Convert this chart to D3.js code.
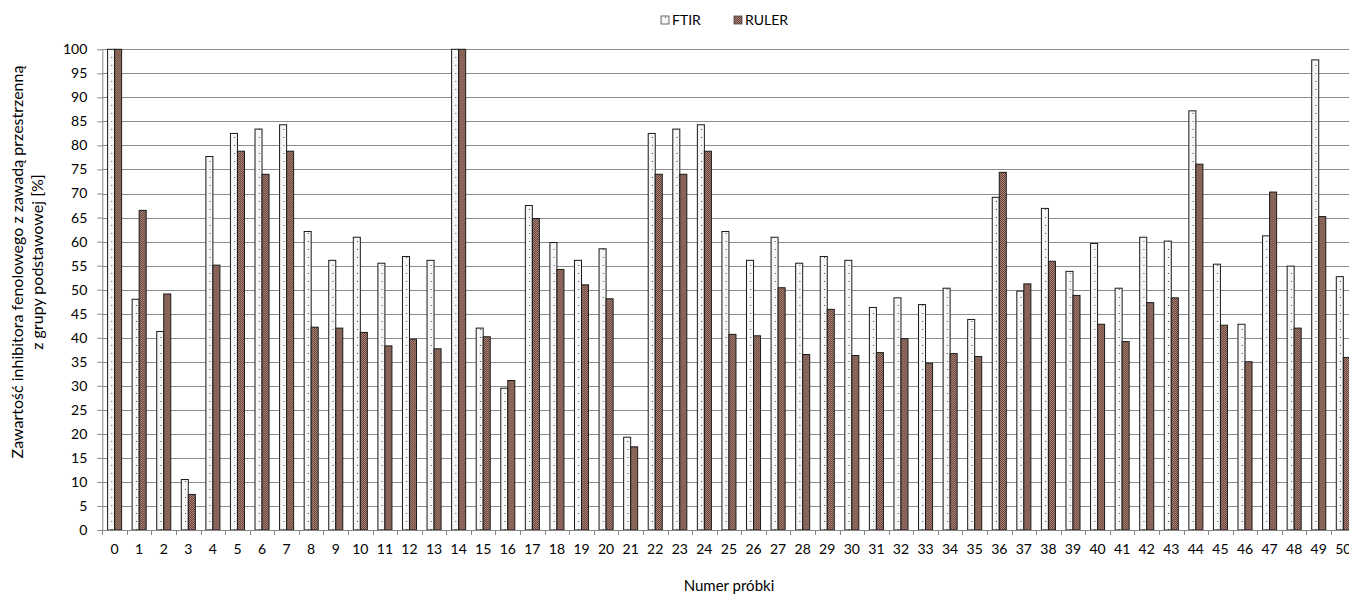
<!DOCTYPE html>
<html><head><meta charset="utf-8">
<script src="https://cdn.jsdelivr.net/npm/d3@7"></script>
<style>body{margin:0;background:#fff;overflow:hidden}svg{display:block}text{font-family:Lato,"Open Sans",sans-serif;fill:#000}</style>
</head><body>
<script>
const categories = d3.range(0, 51).map(String);
const seriesNames = ["FTIR", "RULER"];
const ftir = [100,48.0,41.3,10.5,77.7,82.5,83.4,84.3,62.1,56.1,60.9,55.5,56.9,56.1,100,42.0,29.5,67.5,59.8,56.1,58.5,19.3,82.5,83.4,84.3,62.1,56.1,60.9,55.5,56.9,56.1,46.3,48.3,46.9,50.3,43.8,69.2,49.7,66.9,53.8,59.6,50.3,60.9,60.1,87.2,55.3,42.8,61.2,54.9,97.8,52.7];
const ruler = [100,66.5,49.1,7.4,55.1,78.8,74.0,78.8,42.2,42.0,41.1,38.3,39.7,37.7,100,40.2,31.1,64.8,54.2,51.0,48.1,17.3,74.0,74.0,78.8,40.7,40.4,50.4,36.5,45.9,36.3,36.9,39.8,34.7,36.7,36.1,74.4,51.2,55.9,48.8,42.8,39.2,47.3,48.3,76.1,42.6,35.0,70.3,42.0,65.2,35.9];
const yTicks = d3.range(0, 101, 5);
const yTitle = ["Zawartość inhibitora fenolowego z zawadą przestrzenną", "z grupy podstawowej [%]"];
const xTitle = "Numer próbki";

(function(){
const W = 1349, H = 597;
const svg = d3.select("body").append("svg").attr("width", W).attr("height", H);
const defs = svg.append("defs");
const p1 = defs.append("pattern").attr("id","pF").attr("patternUnits","userSpaceOnUse").attr("width",8).attr("height",8);
p1.append("rect").attr("width",8).attr("height",8).attr("fill","#f7f7f7");
p1.append("rect").attr("x",1).attr("y",1).attr("width",1).attr("height",1).attr("fill","#404040");
p1.append("rect").attr("x",5).attr("y",5).attr("width",1).attr("height",1).attr("fill","#e8c8c0");
p1.append("rect").attr("x",5).attr("y",1).attr("width",1).attr("height",1).attr("fill","#dfe6ee");
const p2 = defs.append("pattern").attr("id","pR").attr("patternUnits","userSpaceOnUse").attr("width",2).attr("height",2);
p2.append("rect").attr("width",2).attr("height",2).attr("fill","#5e443c");
p2.append("rect").attr("x",0).attr("y",0).attr("width",1).attr("height",1).attr("fill","#bd8c7c");
p2.append("rect").attr("x",1).attr("y",1).attr("width",1).attr("height",1).attr("fill","#a87c6e");
const fills = {FTIR:"url(#pF)", RULER:"url(#pR)"};

const pL = 102.3, pR = 1355.6, pT = 49.3, pB = 530;
const x = d3.scaleBand().domain(categories).range([pL, pR]).padding(0);
const x1 = d3.scaleBand().domain(seriesNames).range([0, x.bandwidth()]).paddingInner(0).paddingOuter(0.75);
const y = d3.scaleLinear().domain([0, 100]).range([pB, pT]);

svg.append("g").selectAll("line").data(yTicks.filter(d=>d>0)).join("line")
  .attr("x1", pL).attr("x2", pR).attr("y1", d=>Math.round(y(d))+0.5).attr("y2", d=>Math.round(y(d))+0.5)
  .attr("stroke","#8c8c8c").attr("stroke-width",1);

const data = categories.map((c,i)=>({c, vals:[{s:"FTIR",v:ftir[i]},{s:"RULER",v:ruler[i]}]}));
const g = svg.append("g");
g.selectAll("g").data(data).join("g").attr("transform", d=>`translate(${x(d.c)},0)`)
  .selectAll("rect").data(d=>d.vals).join("rect")
  .attr("x", d=>x1(d.s)).attr("width", x1.bandwidth())
  .attr("y", d=>y(d.v)).attr("height", d=>y(0)-y(d.v))
  .attr("fill", d=>fills[d.s]).attr("stroke","#1a1a1a").attr("stroke-width",1);

const ya = svg.append("g").attr("transform",`translate(${pL},0)`)
  .call(d3.axisLeft(y).tickValues(yTicks).tickSize(5).tickPadding(10));
ya.select(".domain").attr("stroke","#868686").attr("d",`M0.5,${pT}V${pB}`);
ya.selectAll(".tick line").attr("stroke","#868686");
ya.selectAll("text").style("font-size","14px").attr("fill","#000");

const xa = svg.append("g").attr("transform",`translate(0,${pB})`)
  .call(d3.axisBottom(x).tickSize(0).tickPadding(14));
xa.select(".domain").attr("stroke","#868686").attr("d",`M${pL},0.5H${pR}`);
xa.selectAll("text").style("font-size","14px").attr("fill","#000");
const bounds = categories.map(c=>x(c)).concat([x(categories[categories.length-1])+x.bandwidth()]);
svg.append("g").selectAll("line").data(bounds).join("line")
  .attr("x1", d=>Math.round(d)+0.5).attr("x2", d=>Math.round(d)+0.5)
  .attr("y1", pB).attr("y2", pB+5).attr("stroke","#868686");

svg.append("text").attr("x", (pL+pR)/2).attr("y", 591).attr("text-anchor","middle").style("font-size","15px").text(xTitle);
const yt = svg.append("text").attr("transform","translate(23,262) rotate(-90)").attr("text-anchor","middle").style("font-size","16px");
yTitle.forEach((t,i)=>yt.append("tspan").attr("x",0).attr("dy", i===0?0:19.5).text(t));

const leg = svg.append("g");
const legX = [661, 734];
seriesNames.forEach((s,i)=>{
  leg.append("rect").attr("x", legX[i]).attr("y", 16).attr("width", 8).attr("height", 8)
    .attr("fill", fills[s]).attr("stroke","#444").attr("stroke-width",0.8);
  leg.append("text").attr("x", legX[i]+11).attr("y", 25).style("font-size","14px").text(s);
});
})();
</script>
</body></html>
